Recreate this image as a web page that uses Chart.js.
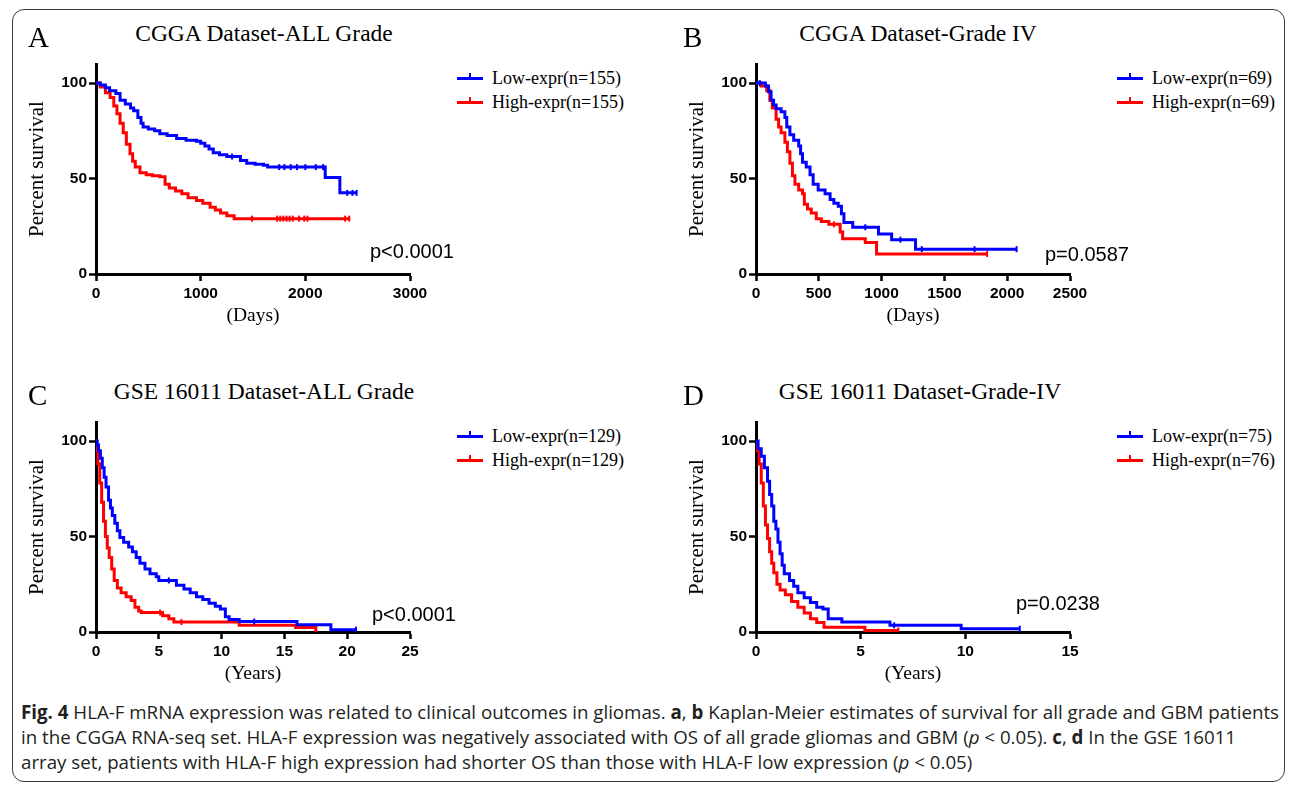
<!DOCTYPE html>
<html>
<head>
<meta charset="utf-8">
<script src="https://cdn.jsdelivr.net/npm/chart.js@4.4.0/dist/chart.umd.min.js"></script>
<style>
  body { margin: 0; width: 1292px; height: 785px; background: #fff; position: relative; overflow: hidden; }
  .frame { position: absolute; left: 12px; top: 9px; width: 1273px; height: 773px; border: 1.5px solid #3a3a3a; border-radius: 12px; box-sizing: border-box; }
  canvas { position: absolute; }
  .lbl { position: absolute; font-family: "Liberation Serif", "Times New Roman", serif; line-height: 1; color: #000; white-space: nowrap; }
  .letter { font-size: 29px; }
  .title { font-size: 23.5px; width: 420px; text-align: center; }
  .legend { position: absolute; font-family: "Liberation Serif", "Times New Roman", serif; font-size: 18px; line-height: 1; white-space: nowrap; }
  .legend div { display: flex; align-items: center; height: 24px; }
  .swatch { position: relative; width: 26px; height: 3px; margin-right: 9px; }
  .swatch i { position: absolute; left: 12px; top: -4px; width: 2px; height: 5px; background: inherit; }
  .pval { position: absolute; font-family: "Liberation Sans", Arial, sans-serif; font-size: 20px; line-height: 1; color: #000; }
  .caption { position: absolute; left: 21px; top: 700px; font-family: "Open Sans", "Noto Sans", sans-serif; font-size: 19px; color: #231f20; transform-origin: left top; }
  .caption div { height: 25px; line-height: 25px; white-space: nowrap; }
  .caption b { font-weight: bold; }
</style>
</head>
<body>
<div class="frame"></div>

<canvas id="chartA" width="420" height="290" style="left:20px;top:50px"></canvas>
<canvas id="chartB" width="420" height="290" style="left:680px;top:50px"></canvas>
<canvas id="chartC" width="420" height="290" style="left:20px;top:408px"></canvas>
<canvas id="chartD" width="420" height="290" style="left:680px;top:408px"></canvas>

<div class="lbl letter" style="left:28px;top:23px">A</div>
<div class="lbl letter" style="left:683px;top:23px">B</div>
<div class="lbl letter" style="left:28px;top:381px">C</div>
<div class="lbl letter" style="left:683px;top:381px">D</div>

<div class="lbl title" id="titleA" style="left:54px;top:22px"></div>
<div class="lbl title" id="titleB" style="left:708px;top:22px"></div>
<div class="lbl title" id="titleC" style="left:54px;top:380px"></div>
<div class="lbl title" id="titleD" style="left:710px;top:380px"></div>

<div class="legend" id="legA" style="left:457px;top:66px"></div>
<div class="legend" id="legB" style="left:1117px;top:66px"></div>
<div class="legend" id="legC" style="left:457px;top:424px"></div>
<div class="legend" id="legD" style="left:1117px;top:424px"></div>

<div class="pval" style="left:370px;top:241px">p&lt;0.0001</div>
<div class="pval" style="left:1045px;top:244px">p=0.0587</div>
<div class="pval" style="left:372px;top:604px">p&lt;0.0001</div>
<div class="pval" style="left:1016px;top:593px">p=0.0238</div>

<div class="caption" id="caption">
  <div><b>Fig. 4</b> HLA-F mRNA expression was related to clinical outcomes in gliomas. <b>a</b>, <b>b</b> Kaplan-Meier estimates of survival for all grade and GBM patients</div>
  <div>in the CGGA RNA-seq set. HLA-F expression was negatively associated with OS of all grade gliomas and GBM (<i>p</i> &lt; 0.05). <b>c</b>, <b>d</b> In the GSE 16011</div>
  <div>array set, patients with HLA-F high expression had shorter OS than those with HLA-F low expression (<i>p</i> &lt; 0.05)</div>
</div>

<script>
// panel titles and legend text
const titles = ['CGGA Dataset-ALL Grade', 'CGGA Dataset-Grade IV', 'GSE 16011 Dataset-ALL Grade', 'GSE 16011 Dataset-Grade-IV'];
const lowLabels = ['Low-expr(n=155)', 'Low-expr(n=69)', 'Low-expr(n=129)', 'Low-expr(n=75)'];
const highLabels = ['High-expr(n=155)', 'High-expr(n=69)', 'High-expr(n=129)', 'High-expr(n=76)'];
const yTicks = [0, 50, 100];

// A: CGGA all grade (days) - a repeated value is a censored case
const aLowT = [0, 40, 90, 130, 190, 230, 280, 330, 360, 400, 430, 450, 500, 560, 610, 680, 770, 860, 960, 1000, 1040, 1080, 1120, 1180, 1250, 1300, 1380, 1440, 1520, 1600, 1640, 1750, 1800, 1860, 1920, 2000, 2100, 2170, 2190, 2330, 2400, 2450, 2490];
const aLowS = [100, 99, 97.5, 96, 94.5, 91, 89, 87, 85.5, 82, 79, 77, 76, 75, 73.5, 72.5, 71, 70, 69.5, 68.5, 67, 65.5, 63.5, 62.5, 61.5, 61.5, 59.5, 58, 57.5, 57, 56, 56, 56, 56, 56, 56, 56, 56, 50.5, 42.5, 42.5, 42.5, 42.5];
const aHighT = [0, 40, 90, 135, 170, 200, 230, 260, 290, 325, 350, 375, 420, 480, 540, 610, 660, 700, 760, 820, 880, 960, 1020, 1090, 1140, 1190, 1250, 1320, 1490, 1730, 1760, 1790, 1820, 1850, 1880, 1940, 1990, 2020, 2380, 2420];
const aHighS = [100, 98, 95, 92.5, 88, 84, 79, 74, 68, 63, 59, 56, 53, 52, 51.5, 51, 47, 45, 43.5, 42, 40, 38.5, 37, 35, 33.5, 32, 30.5, 29, 29, 29, 29, 29, 29, 29, 29, 29, 29, 29, 29, 29];

// B: CGGA grade IV (days)
const bLowT = [0, 30, 75, 100, 120, 140, 160, 200, 230, 245, 270, 300, 340, 355, 370, 400, 430, 455, 495, 550, 590, 620, 655, 680, 700, 770, 870, 975, 1080, 1150, 1270, 1320, 1740, 2075];
const bLowS = [100, 100, 98.5, 95.5, 91, 88.5, 86.5, 85, 82, 77, 73, 70, 67, 63, 58.5, 56, 52, 47, 44, 42, 39, 37, 35.5, 31.5, 27, 24.5, 24.5, 21, 18, 18, 13, 13, 13, 13];
const bHighT = [0, 40, 85, 110, 130, 160, 180, 200, 230, 250, 270, 290, 310, 340, 370, 385, 410, 440, 480, 520, 580, 620, 670, 690, 870, 960, 1840];
const bHighS = [100, 98.5, 96, 91, 87, 81, 77, 74, 69, 64, 58, 51.5, 47, 44, 42, 36.5, 34, 32, 29, 27.5, 26, 26, 22, 18.5, 16.5, 10.5, 10.5];

// C: GSE16011 all grade (years)
const cLowT = [0, 0.1, 0.2, 0.35, 0.5, 0.65, 0.8, 1.0, 1.15, 1.3, 1.5, 1.7, 1.9, 2.2, 2.6, 2.9, 3.2, 3.5, 3.9, 4.3, 4.8, 5.0, 5.8, 6.4, 7.0, 7.5, 8.0, 8.5, 9.0, 9.5, 9.9, 10.3, 10.6, 11.4, 12.6, 16.0, 18.7, 20.7];
const cLowS = [100, 98, 95, 91, 86, 81, 76, 69, 65, 61, 57, 53, 49.5, 47, 44.5, 42, 39, 36, 33, 30.5, 29, 27, 27, 24.5, 22.5, 20.5, 18.5, 17, 15, 13.5, 12, 8, 6.5, 5.5, 5.5, 3.8, 1.2, 1.2];
const cHighT = [0, 0.05, 0.15, 0.3, 0.45, 0.6, 0.75, 0.9, 1.05, 1.25, 1.45, 1.7, 2.0, 2.4, 2.8, 3.1, 3.4, 3.6, 5.1, 5.3, 5.8, 6.2, 6.8, 11.4, 15.9, 17.5];
const cHighS = [100, 95, 88, 78, 68, 58, 50, 44, 39, 33, 27, 23, 20.5, 18.5, 16.5, 13, 11, 10.2, 10.2, 8.5, 7, 5.2, 5.2, 3.5, 2.3, 0];

// D: GSE16011 grade IV (years)
const dLowT = [0, 0.1, 0.25, 0.4, 0.55, 0.65, 0.75, 0.85, 0.95, 1.05, 1.15, 1.25, 1.35, 1.6, 1.8, 2.0, 2.3, 2.6, 2.9, 3.2, 3.45, 4.1, 6.4, 6.6, 9.8, 12.6];
const dLowS = [100, 96, 92, 86, 79, 72, 66, 58, 54, 47, 41, 35, 30.5, 27, 24, 20.5, 18, 15.5, 13, 12, 7, 5.2, 3.5, 3.5, 1.7, 1.7];
const dHighT = [0, 0.05, 0.15, 0.25, 0.35, 0.45, 0.55, 0.65, 0.75, 0.85, 1.0, 1.15, 1.4, 1.7, 2.0, 2.3, 2.6, 2.9, 3.25, 5.2, 6.8];
const dHighS = [100, 95, 88, 78, 66, 56, 49, 42, 36, 31, 25, 22, 19.5, 16, 13, 10, 7, 5, 2.5, 0.8, 0.8];

const BLUE = '#0000ff';
const RED = '#ff0000';
const tickFont = { family: 'Liberation Sans', size: 15.5, weight: 'bold' };

function kmDataset(label, t, s, color) {
    return {
        label: label,
        data: t.map((x, i) => ({ x: x, y: s[i] })),
        borderColor: color,
        backgroundColor: color,
        borderWidth: 3,
        stepped: true,
        fill: false,
        pointStyle: 'line',
        pointRotation: 90,
        pointBorderWidth: 2,
        // censored cases show as a small vertical tick
        pointRadius: c => (c.dataIndex > 0 && s[c.dataIndex] === s[c.dataIndex - 1]) ? 3 : 0,
        pointHoverRadius: 0
    };
}

function makePanel(id, xMax, xStep, xLabel, low, high) {
    const ctx = document.getElementById(id).getContext('2d');
    return new Chart(ctx, {
        type: 'line',
        data: { datasets: [low, high] },
        options: {
            responsive: false,
            animation: false,
            devicePixelRatio: 1,
            layout: { padding: { left: 0, right: 30, top: 14, bottom: 0 } },
            plugins: { legend: { display: false }, tooltip: { enabled: false } },
            scales: {
                x: {
                    type: 'linear',
                    min: 0,
                    max: xMax,
                    ticks: { stepSize: xStep, font: tickFont, color: '#000', padding: 3, maxRotation: 0, callback: v => String(v) },
                    grid: { drawOnChartArea: false, tickLength: 7, tickWidth: 2.5, tickColor: '#000' },
                    border: { color: '#000', width: 3 },
                    title: { display: true, text: xLabel, color: '#000', font: { family: 'Liberation Serif', size: 19.5 }, padding: { top: 0, bottom: 12 } },
                    afterFit: s => { s.height = 66; }
                },
                y: {
                    type: 'linear',
                    min: 0,
                    max: 110,
                    afterBuildTicks: s => { s.ticks = yTicks.map(v => ({ value: v })); },
                    ticks: { font: tickFont, color: '#000', padding: 2, callback: v => String(v) },
                    grid: { drawOnChartArea: false, tickLength: 7, tickWidth: 2.5, tickColor: '#000' },
                    border: { color: '#000', width: 3 },
                    title: { display: true, text: 'Percent survival', color: '#000', font: { family: 'Liberation Serif', size: 21 }, padding: { top: 5, bottom: 0 } },
                    afterFit: s => { s.width = 76; }
                }
            }
        }
    });
}

makePanel('chartA', 3000, 1000, '(Days)', kmDataset(lowLabels[0], aLowT, aLowS, BLUE), kmDataset(highLabels[0], aHighT, aHighS, RED));
makePanel('chartB', 2500, 500, '(Days)', kmDataset(lowLabels[1], bLowT, bLowS, BLUE), kmDataset(highLabels[1], bHighT, bHighS, RED));
makePanel('chartC', 25, 5, '(Years)', kmDataset(lowLabels[2], cLowT, cLowS, BLUE), kmDataset(highLabels[2], cHighT, cHighS, RED));
makePanel('chartD', 15, 5, '(Years)', kmDataset(lowLabels[3], dLowT, dLowS, BLUE), kmDataset(highLabels[3], dHighT, dHighS, RED));

// titles and legends
['A', 'B', 'C', 'D'].forEach((p, i) => {
    document.getElementById('title' + p).textContent = titles[i];
    const leg = document.getElementById('leg' + p);
    [[lowLabels[i], BLUE], [highLabels[i], RED]].forEach(([txt, col]) => {
        const row = document.createElement('div');
        const sw = document.createElement('span');
        sw.className = 'swatch';
        sw.style.background = col;
        sw.appendChild(document.createElement('i'));
        row.appendChild(sw);
        row.appendChild(document.createTextNode(txt));
        leg.appendChild(row);
    });
});

// squeeze caption to the width of the printed lines
const cap = document.getElementById('caption');
const first = cap.children[0];
first.style.display = 'inline-block';
const w = first.getBoundingClientRect().width;
first.style.display = '';
cap.style.transform = 'scaleX(' + (1258 / w).toFixed(4) + ')';
</script>
</body>
</html>
